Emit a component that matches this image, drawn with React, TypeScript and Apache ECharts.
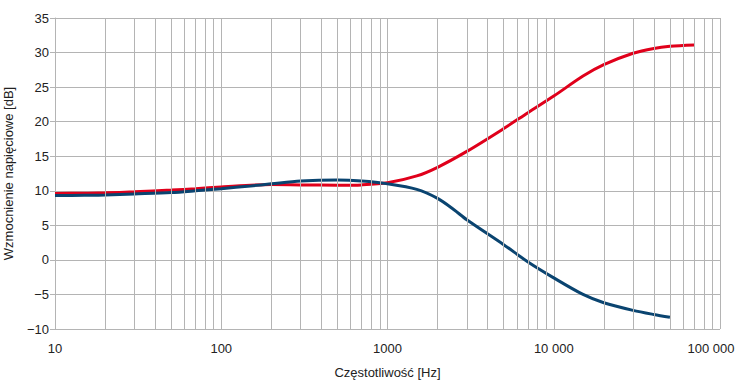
import React, { useEffect, useRef } from "react";
import * as echarts from "echarts";

const redFreqs = [10, 15, 20, 30, 50, 70, 100, 150, 200, 300, 500, 700, 1000, 1500, 2000, 3000, 5000, 7000, 10000, 15000, 20000, 30000, 40000, 50000, 70000];
const redGain = [9.6, 9.65, 9.7, 9.85, 10.1, 10.3, 10.55, 10.8, 10.9, 10.85, 10.8, 10.85, 11.15, 12.15, 13.4, 15.7, 19.0, 21.3, 23.7, 26.6, 28.25, 29.9, 30.6, 30.9, 31.1];
const blueFreqs = [10, 15, 20, 30, 50, 70, 100, 150, 200, 300, 500, 700, 1000, 1500, 2000, 2500, 3000, 5000, 7000, 10000, 15000, 20000, 30000, 40000, 50000];
const blueGain = [9.3, 9.35, 9.4, 9.55, 9.75, 10.0, 10.3, 10.7, 11.0, 11.4, 11.55, 11.4, 11.0, 10.2, 8.9, 7.3, 5.8, 2.2, -0.3, -2.6, -5.0, -6.2, -7.3, -7.9, -8.3];
const decades = [10, 100, 1000, 10000];
const minorSteps = [2, 3, 4, 5, 6, 7, 8, 9];
const yTicks = { min: -10, max: 35, interval: 5 };

const fmt = (v: number) => {
  const s = String(Math.round(v));
  const t = s.length > 4 ? s.replace(/\B(?=(\d{3})+(?!\d))/g, " ") : s;
  return v >= 100000 ? "{last|" + t + "}" : t;
};

export default function App() {
  const ref = useRef<HTMLDivElement>(null);
  useEffect(() => {
    if (!ref.current) return;
    const chart = echarts.init(ref.current, null, { renderer: "svg" });
    const minorLines: { xAxis: number }[] = [];
    decades.forEach((d) => minorSteps.forEach((m) => minorLines.push({ xAxis: d * m })));
    const gridColor = "#b4b4b4";
    const font = "Liberation Sans, Arial, sans-serif";
    chart.setOption({
      animation: false,
      grid: { left: 55, right: 20, top: 18, bottom: 51, containLabel: false, outerBoundsMode: "none" },
      xAxis: {
        type: "log",
        logBase: 10,
        min: 10,
        max: 100000,
        name: "Częstotliwość [Hz]",
        nameLocation: "middle",
        nameGap: 37,
        nameTextStyle: { fontFamily: font, fontSize: 13, color: "#222" },
        axisLine: { show: true, lineStyle: { color: gridColor } },
        axisTick: { show: true, length: 5, lineStyle: { color: gridColor } },
        axisLabel: {
          fontFamily: font,
          fontSize: 13,
          color: "#222",
          margin: 13,
          formatter: fmt,
          rich: { last: { fontFamily: font, fontSize: 13, color: "#222", padding: [0, 18, 0, 0] } },
        },
        splitLine: { show: true, lineStyle: { color: gridColor, width: 1 } },
      },
      yAxis: {
        type: "value",
        min: yTicks.min,
        max: yTicks.max,
        interval: yTicks.interval,
        name: "Wzmocnienie napięciowe [dB]",
        nameLocation: "middle",
        nameGap: 40,
        nameTextStyle: { fontFamily: font, fontSize: 13, color: "#222" },
        axisLine: { show: true, lineStyle: { color: gridColor } },
        axisTick: { show: true, length: 5, lineStyle: { color: gridColor } },
        axisLabel: { fontFamily: font, fontSize: 13, color: "#222", margin: 6, formatter: (v: number) => (v < 0 ? "\u2212" + Math.abs(v) : String(v)) },
        splitLine: { show: true, lineStyle: { color: gridColor, width: 1 } },
      },
      series: [
        {
          type: "line",
          data: [],
          z: 1,
          silent: true,
          markLine: {
            silent: true,
            symbol: ["none", "none"],
            label: { show: false },
            lineStyle: { color: gridColor, width: 1, type: "solid" },
            data: minorLines,
          },
        },
        {
          type: "line",
          z: 3,
          smooth: 0.3,
          showSymbol: false,
          lineStyle: { color: "#e0001b", width: 3 },
          data: redFreqs.map((f, i) => [f, redGain[i]]),
        },
        {
          type: "line",
          z: 4,
          smooth: 0.3,
          showSymbol: false,
          lineStyle: { color: "#0a4470", width: 3 },
          data: blueFreqs.map((f, i) => [f, blueGain[i]]),
        },
      ],
    });
    return () => chart.dispose();
  }, []);
  return <div ref={ref} style={{ width: 740, height: 380, position: "absolute", left: 0, top: 0, background: "#fff" }} />;
}
